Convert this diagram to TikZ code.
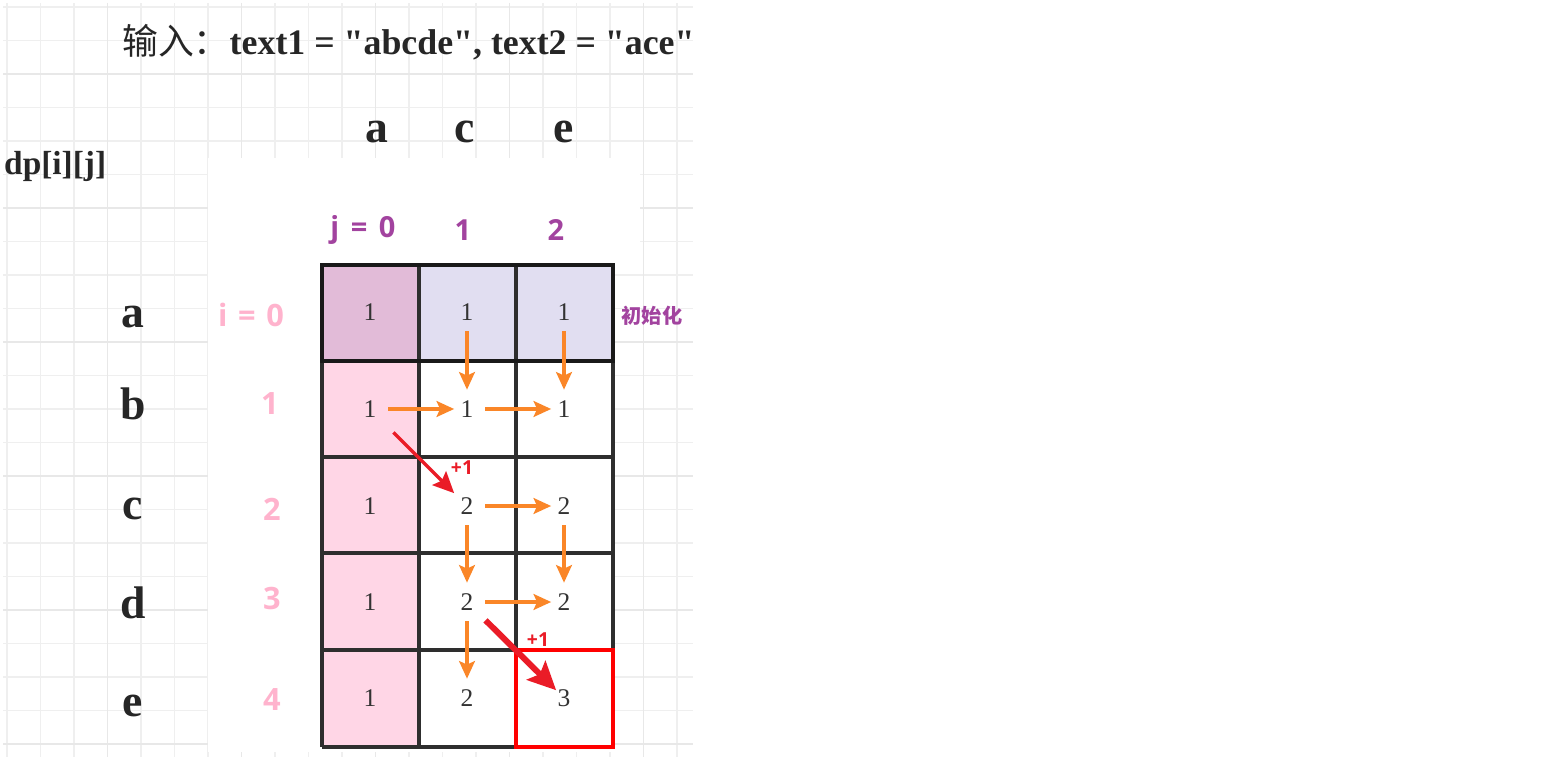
\documentclass[tikz,border=0pt]{standalone}
\usepackage{fontspec}
\setmainfont{Liberation Serif}
\newfontfamily\cjk{Noto Sans CJK SC}
\newfontfamily\sans{Open Sans}
\usetikzlibrary{arrows.meta}
\definecolor{gridgray}{HTML}{EFEFEF}
\definecolor{gridbold}{HTML}{E8E8E8}
\definecolor{tabgray}{HTML}{2E2E2E}
\definecolor{initpink}{HTML}{E2BBD8}
\definecolor{initblue}{HTML}{E1DEF1}
\definecolor{colpink}{HTML}{FFD6E6}
\definecolor{labpurple}{HTML}{A2439F}
\definecolor{labpink}{HTML}{FFB3CD}
\definecolor{floworange}{HTML}{FA8628}
\definecolor{gainred}{HTML}{EA1C27}

\begin{document}
\begin{tikzpicture}[x=0.02cm,y=-0.02cm,
  num/.style={inner sep=0pt,minimum width=0.5cm,minimum height=0.76cm,text=black!80,font=\fontsize{14.5}{14.5}\selectfont},
  letter/.style={text=black!85,font=\fontsize{26}{26}\selectfont\bfseries},
  jlab/.style={text=labpurple,font=\sans\fontsize{16.5}{16.5}\selectfont\bfseries},
  ilab/.style={text=labpink,font=\sans\fontsize{17.5}{17.5}\selectfont\bfseries},
  plus/.style={text=gainred,font=\sans\fontsize{11}{11}\selectfont\bfseries},
  flow/.style={draw=floworange,line width=1.8pt,-{Stealth[length=10pt,width=9pt,inset=2pt]}},
  gain/.style={draw=gainred,line width=2pt,-{Stealth[length=12pt,width=11pt,inset=2pt]}},
  tabline/.style={draw=tabgray,line width=2.2pt}]
\useasboundingbox (0,0) rectangle (1554,766);

\foreach \k in {0,...,20} \draw[gridgray,line width=0.6pt] ({7+33.5*\k},3) -- ({7+33.5*\k},757);
\foreach \k in {0,...,22} \draw[gridgray,line width=0.6pt] (3,{7+33.5*\k}) -- (693,{7+33.5*\k});
\foreach \k in {3,7,11,15,19} \draw[gridbold,line width=1.1pt] ({7+33.5*\k},3) -- ({7+33.5*\k},757);
\foreach \k in {2,6,10,14,18,22} \draw[gridbold,line width=1.1pt] (3,{7+33.5*\k}) -- (693,{7+33.5*\k});

\fill[white] (208,158) rectangle (640,265);
\fill[white] (208,265) rectangle (613,752);

\node[anchor=west,text=black!85,font=\fontsize{20.4}{20.4}\selectfont\bfseries] (title) at (116,42) {{\cjk\mdseries 输入：}text1 = \textquotedbl abcde\textquotedbl, text2 = \textquotedbl ace\textquotedbl};
\node[anchor=west,text=black!85,font=\fontsize{19}{19}\selectfont\bfseries] (dp) at (-2,166) {dp[i][j]};

\node[letter] (ca) at (377,132) {a};
\node[letter] (cc) at (465,132) {c};
\node[letter] (ce) at (564,132) {e};
\node[letter] (ra) at (133,317) {a};
\node[letter] (rb) at (133,404) {b};
\node[letter] (rc) at (133,509) {c};
\node[letter] (rd) at (133,603) {d};
\node[letter] (re) at (133,706) {e};

\node[jlab] (j0) at (363,230) {j\hspace{0.4em}=\hspace{0.4em}0};
\node[jlab] (j1) at (463,230) {1};
\node[jlab] (j2) at (556,230) {2};
\node[ilab] (i0) at (251,315) {i\hspace{0.35em}=\hspace{0.35em}0};
\node[ilab] (i1) at (270,404) {1};
\node[ilab] (i2) at (272,509) {2};
\node[ilab] (i3) at (272,599) {3};
\node[ilab] (i4) at (272,700) {4};
\node[text=labpurple,font=\cjk\fontsize{11.5}{11.5}\selectfont\bfseries] (init) at (652,316) {初始化};

\fill[initpink] (322,265) rectangle (419,361);
\fill[initblue] (419,265) rectangle (613,361);
\fill[colpink] (322,361) rectangle (419,747);
\foreach \x in {322,419,516,613} \draw[tabline] (\x,265) -- (\x,747);
\foreach \y in {361,457,553,650,747} \draw[tabline] (322,\y) -- (613,\y);
\draw[draw=black!90,line width=2.4pt] (322,265) rectangle (613,361);
\draw[draw=red,line width=2.4pt] (516,650) rectangle (613,747);

\node[num] (n00) at (370,312) {1};
\node[num] (n01) at (467,312) {1};
\node[num] (n02) at (564,312) {1};
\node[num] (n10) at (370,409) {1};
\node[num] (n11) at (467,409) {1};
\node[num] (n12) at (564,409) {1};
\node[num] (n20) at (370,506) {1};
\node[num] (n21) at (467,506) {2};
\node[num] (n22) at (564,506) {2};
\node[num] (n30) at (370,602) {1};
\node[num] (n31) at (467,602) {2};
\node[num] (n32) at (564,602) {2};
\node[num] (n40) at (370,698) {1};
\node[num] (n41) at (467,698) {2};
\node[num] (n42) at (564,698) {3};

\draw[flow] (n01) -- (n11);
\draw[flow] (n02) -- (n12);
\draw[flow,shorten <=3pt] (n10) -- (n11);
\draw[flow,shorten <=3pt] (n11) -- (n12);
\draw[gain,shorten <=0.3cm] (n10) -- (n21);
\draw[flow,shorten <=3pt] (n21) -- (n22);
\draw[flow] (n21) -- (n31);
\draw[flow] (n22) -- (n32);
\draw[flow,shorten <=3pt] (n31) -- (n32);
\draw[flow] (n31) -- (n41);
\draw[gain,line width=3.4pt,shorten <=0.16cm,shorten >=-4pt,-{Stealth[length=16pt,width=15pt,inset=3pt]}] (n31) -- (n42);

\node[plus] (g1) at (462,468) {+1};
\node[plus] (g2) at (538,640) {+1};
\end{tikzpicture}
\end{document}
